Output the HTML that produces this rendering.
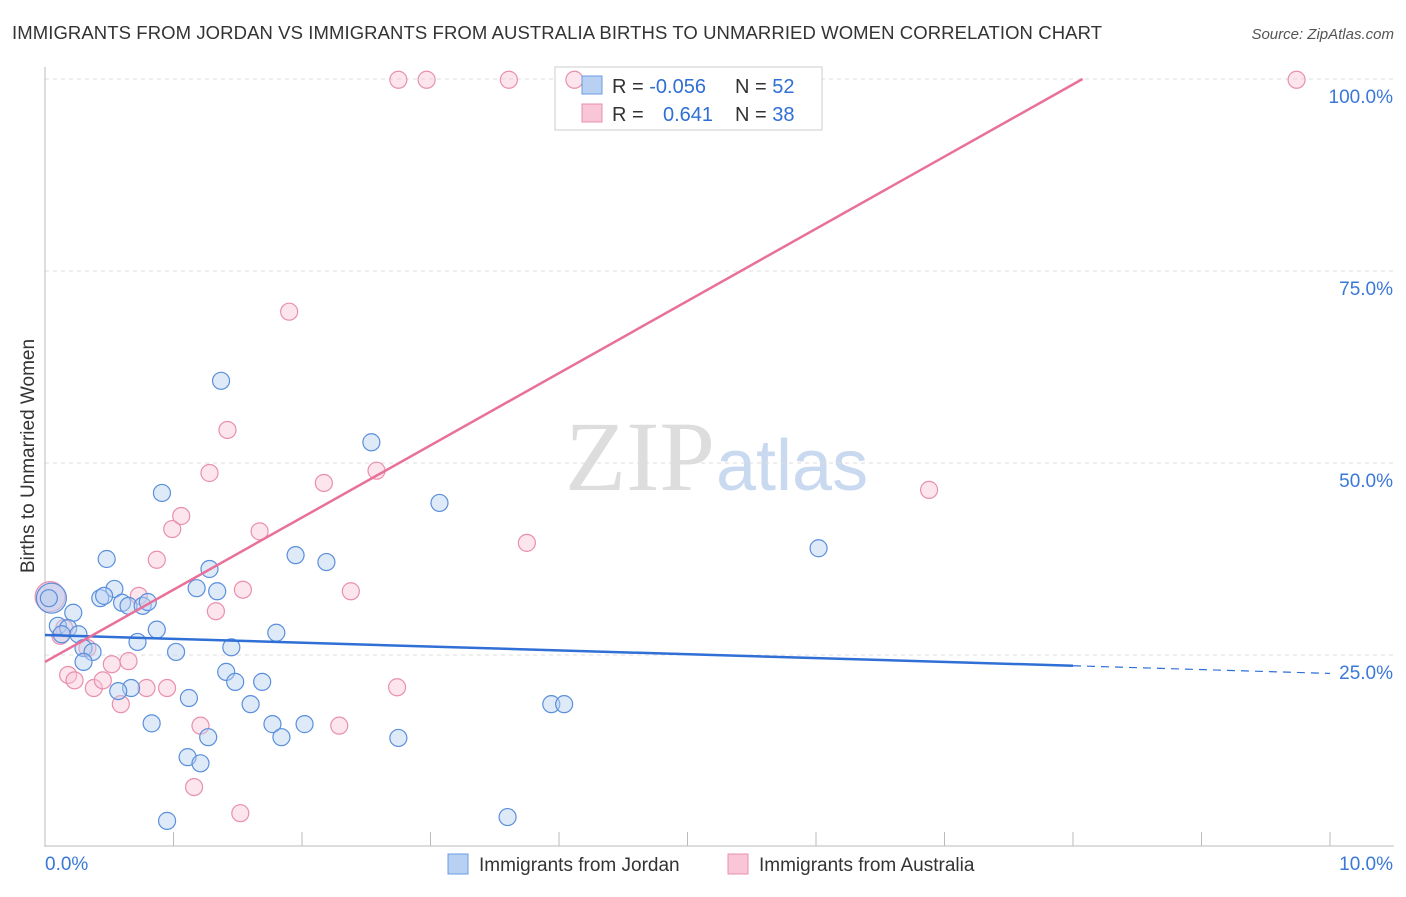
<!DOCTYPE html>
<html><head><meta charset="utf-8"><style>
body{margin:0;background:#fff;font-family:"Liberation Sans",sans-serif;}
</style></head><body>
<svg width="1406" height="892" xmlns="http://www.w3.org/2000/svg" font-family="Liberation Sans, sans-serif">
<text x="12" y="39" font-size="18.5" fill="#333" textLength="1090">IMMIGRANTS FROM JORDAN VS IMMIGRANTS FROM AUSTRALIA BIRTHS TO UNMARRIED WOMEN CORRELATION CHART</text>
<text x="1394" y="39" font-size="15" fill="#555" text-anchor="end" font-style="italic">Source: ZipAtlas.com</text>
<text x="715" y="490" font-size="100" fill="#ddd" text-anchor="end" font-family="Liberation Serif, serif">ZIP</text>
<text x="716" y="490" font-size="72" fill="#c9d9ef">atlas</text>
<g id="grid"></g><g id="axes"></g>
<rect x="555" y="67" width="267" height="63" fill="#fff" stroke="#ccc"/>
<g id="marks"></g>
<text transform="translate(34,456) rotate(-90)" font-size="19" fill="#333" text-anchor="middle">Births to Unmarried Women</text>
<rect x="582" y="76" width="20" height="18" fill="#b8d0f2" stroke="#6a9be0"/>
<rect x="582" y="104" width="20" height="18" fill="#f8c6d6" stroke="#e890ad"/>
<g font-size="20">
<text x="612" y="93" fill="#333">R = <tspan fill="#2f6fd6">-0.056</tspan></text>
<text x="735" y="93" fill="#333">N = <tspan fill="#2f6fd6">52</tspan></text>
<text x="612" y="121" fill="#333">R = </text><text x="663" y="121" fill="#2f6fd6">0.641</text>
<text x="735" y="121" fill="#333">N = <tspan fill="#2f6fd6">38</tspan></text>
</g>
<rect x="448" y="854" width="20" height="20" fill="#b8d0f2" stroke="#6a9be0"/>
<text x="479" y="871" font-size="19" fill="#333">Immigrants from Jordan</text>
<rect x="728" y="854" width="20" height="20" fill="#f8c6d6" stroke="#e890ad"/>
<text x="759" y="871" font-size="19" fill="#333">Immigrants from Australia</text>
</svg>
<script>
const blueX=[0.05,0.10,0.22,0.18,0.26,0.13,0.30,0.37,0.30,0.48,0.54,0.43,0.46,0.60,0.65,0.76,0.80,0.87,0.72,1.02,0.91,1.37,1.28,1.18,1.34,1.45,1.41,1.48,1.69,1.12,1.60,1.80,1.95,2.19,2.54,3.07,6.02,3.94,4.04,0.83,1.77,2.02,1.84,1.27,1.11,1.21,2.75,3.60,0.95,0.67,0.57,0.03];
const blueY=[32.4,28.8,30.5,28.5,27.7,27.7,25.9,25.4,24.1,37.5,33.6,32.4,32.7,31.8,31.4,31.4,31.9,28.3,26.7,25.4,46.1,60.7,36.2,33.7,33.3,26.0,22.8,21.5,21.5,19.4,18.6,27.9,38.0,37.1,52.7,44.8,38.9,18.6,18.6,16.1,16.0,16.0,14.3,14.3,11.7,10.9,14.2,3.9,3.4,20.7,20.3,32.4];
const pinkX=[0.04,0.12,0.18,0.23,0.38,0.45,0.52,0.65,0.59,0.79,0.95,0.87,0.73,0.99,1.06,1.28,1.42,1.67,1.54,1.33,1.90,2.17,2.58,2.38,2.29,2.74,3.75,6.88,9.74,2.75,2.97,3.61,4.12,1.21,1.16,1.52,0.33,0.15];
const pinkY=[32.6,27.5,22.4,21.7,20.7,21.7,23.8,24.2,18.6,20.7,20.7,37.4,32.7,41.4,43.1,48.7,54.3,41.1,33.5,30.7,69.7,47.4,49.0,33.3,15.8,20.8,39.6,46.5,99.9,99.9,99.9,99.9,99.9,15.8,7.8,4.4,25.9,28.5];
const blueTrend=[27.6,22.6];
const pinkTrend=[24.1,33.5];
const xTicks=["0.0%","10.0%"];
const yTicks=[25,50,75,100];
const NS="http://www.w3.org/2000/svg";
const sx=v=>45+v*128.5, sy=v=>847-v*7.68;
function mk(t,a,p){const e=document.createElementNS(NS,t);for(const k in a)e.setAttribute(k,a[k]);p.appendChild(e);return e;}
const grid=document.getElementById('grid'),axes=document.getElementById('axes'),marks=document.getElementById('marks');
yTicks.forEach(v=>{const l=mk('line',{x1:45,x2:1394,y1:sy(v),y2:sy(v),stroke:'#ddd','stroke-dasharray':'4,4'},grid);


const t=mk('text',{x:1393,y:sy(v)+24,'font-size':19,fill:'#3a78d8','text-anchor':'end'},axes);t.textContent=v.toFixed(1)+'%';

});
const ax=mk('line',{x1:45,x2:45,y1:67,y2:847,stroke:'#bbb'},axes);


const bx=mk('line',{x1:45,x2:1394,y1:846,y2:846,stroke:'#bbb'},axes);


for(let i=0;i<=10;i++){const t=mk('line',{x1:sx(i),x2:sx(i),y1:832,y2:846,stroke:'#bbb'},axes);

}
[[0,xTicks[0],'start',45],[10,xTicks[1],'end',1393]].forEach(d=>{const t=mk('text',{x:d[3],y:870,'font-size':19,fill:'#3a78d8','text-anchor':d[2]},axes);t.textContent=d[1];

});
function pts(X,Y,fill,stroke,name){X.forEach((x,i)=>{const big=(i==0);const c=mk('circle',{cx:sx(x),cy:sy(Y[i]),r:big?15:8.5,fill:fill,'fill-opacity':big?0.6:0.45,stroke:stroke,'stroke-width':1.2},marks);

});}
pts(pinkX,pinkY,'#f8c6d6','#e890ad','point-australia');
pts(blueX,blueY,'#b8d0f2','#5a8fdc','point-jordan');
const bs=(blueTrend[1]-blueTrend[0])/10;
const b1=mk('line',{x1:sx(0),y1:sy(blueTrend[0]),x2:sx(8),y2:sy(blueTrend[0]+bs*8),stroke:'#2f6fd6','stroke-width':2.5},marks);


const b2=mk('line',{x1:sx(8),y1:sy(blueTrend[0]+bs*8),x2:sx(10),y2:sy(blueTrend[1]),stroke:'#2f6fd6','stroke-width':1.2,'stroke-dasharray':'8,6'},marks);


const pEnd=(100-pinkTrend[0])/(pinkTrend[1]-pinkTrend[0]);
const p1=mk('line',{x1:sx(0),y1:sy(pinkTrend[0]),x2:sx(pEnd),y2:sy(100),stroke:'#e8709a','stroke-width':2.5},marks);


</script>
</body></html>
